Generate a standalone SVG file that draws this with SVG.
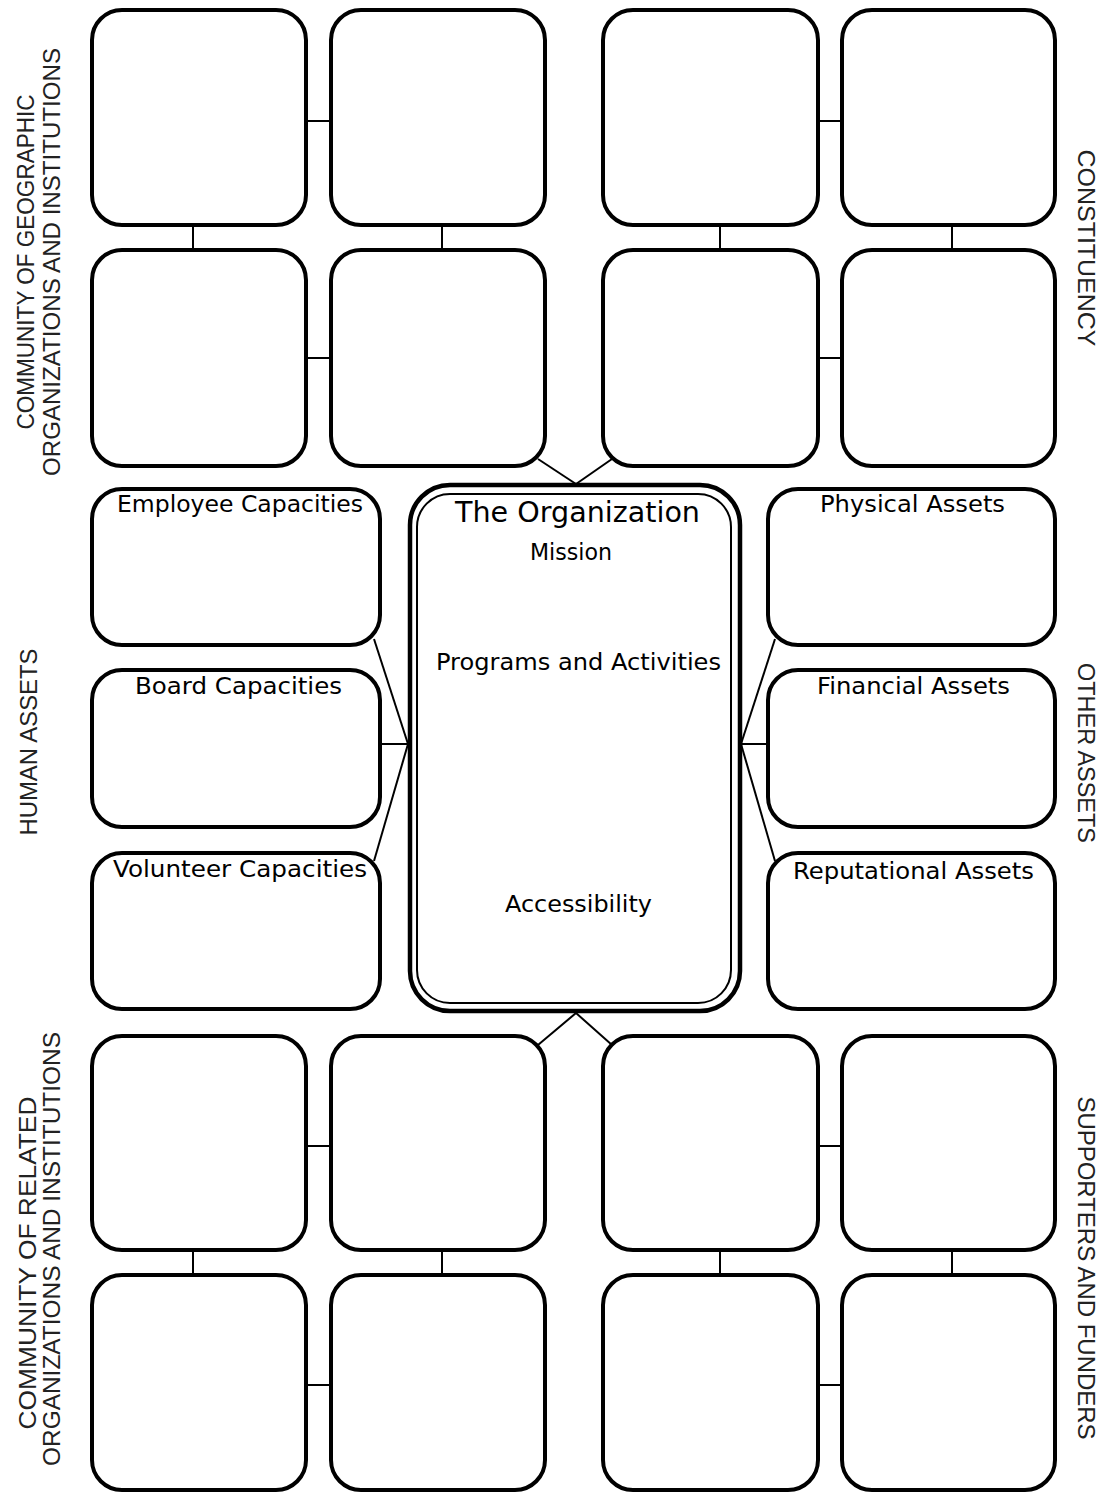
<svg xmlns="http://www.w3.org/2000/svg" width="1105" height="1496" viewBox="0 0 1105 1496">
<style>
.box{fill:#fff;stroke:#000;stroke-width:4}
.outer{fill:#fff;stroke:#000;stroke-width:4.5}
.inner{fill:none;stroke:#000;stroke-width:2}
.conn line{stroke:#000;stroke-width:2}
.lbl{font-family:"DejaVu Sans","Liberation Sans",sans-serif;font-size:23px;fill:#000}
.side{font-family:"Liberation Sans",Arial,sans-serif;font-size:24px;fill:#222;text-anchor:middle}
</style>
<rect width="1105" height="1496" fill="#fff"/>
<g id="connectors" class="conn">
<line x1="306" y1="121" x2="331" y2="121"/>
<line x1="306" y1="358" x2="331" y2="358"/>
<line x1="818" y1="121" x2="842" y2="121"/>
<line x1="818" y1="358" x2="842" y2="358"/>
<line x1="193" y1="225" x2="193" y2="250"/>
<line x1="442" y1="225" x2="442" y2="250"/>
<line x1="720" y1="225" x2="720" y2="250"/>
<line x1="952" y1="225" x2="952" y2="250"/>
<line x1="306" y1="1146" x2="331" y2="1146"/>
<line x1="306" y1="1385" x2="331" y2="1385"/>
<line x1="818" y1="1146" x2="842" y2="1146"/>
<line x1="818" y1="1385" x2="842" y2="1385"/>
<line x1="193" y1="1250" x2="193" y2="1275"/>
<line x1="442" y1="1250" x2="442" y2="1275"/>
<line x1="720" y1="1250" x2="720" y2="1275"/>
<line x1="952" y1="1250" x2="952" y2="1275"/>
<line x1="538" y1="459" x2="576" y2="484"/>
<line x1="612" y1="459" x2="576" y2="484"/>
<line x1="538" y1="1045" x2="576" y2="1013"/>
<line x1="612" y1="1045" x2="576" y2="1013"/>
<line x1="374" y1="639" x2="408" y2="744"/>
<line x1="380" y1="744" x2="408" y2="744"/>
<line x1="374" y1="861" x2="408" y2="744"/>
<line x1="775" y1="639" x2="741" y2="744"/>
<line x1="741" y1="744" x2="768" y2="744"/>
<line x1="775" y1="861" x2="741" y2="744"/>
</g>
<g id="grid-top">
<rect id="tl1" class="box" x="92" y="10" width="214" height="215" rx="30"/>
<rect id="tl2" class="box" x="331" y="10" width="214" height="215" rx="30"/>
<rect id="tr1" class="box" x="603" y="10" width="215" height="215" rx="30"/>
<rect id="tr2" class="box" x="842" y="10" width="213" height="215" rx="30"/>
<rect id="tl3" class="box" x="92" y="250" width="214" height="216" rx="30"/>
<rect id="tl4" class="box" x="331" y="250" width="214" height="216" rx="30"/>
<rect id="tr3" class="box" x="603" y="250" width="215" height="216" rx="30"/>
<rect id="tr4" class="box" x="842" y="250" width="213" height="216" rx="30"/>
</g>
<g id="grid-bottom">
<rect id="bl1" class="box" x="92" y="1036" width="214" height="214" rx="30"/>
<rect id="bl2" class="box" x="331" y="1036" width="214" height="214" rx="30"/>
<rect id="br1" class="box" x="603" y="1036" width="215" height="214" rx="30"/>
<rect id="br2" class="box" x="842" y="1036" width="213" height="214" rx="30"/>
<rect id="bl3" class="box" x="92" y="1275" width="214" height="215" rx="30"/>
<rect id="bl4" class="box" x="331" y="1275" width="214" height="215" rx="30"/>
<rect id="br3" class="box" x="603" y="1275" width="215" height="215" rx="30"/>
<rect id="br4" class="box" x="842" y="1275" width="213" height="215" rx="30"/>
</g>
<g id="employee">
<rect class="box" x="92" y="489" width="288" height="156" rx="30"/>
<text class="lbl" x="117" y="512" textLength="246" lengthAdjust="spacingAndGlyphs">Employee Capacities</text>
</g>
<g id="board">
<rect class="box" x="92" y="670" width="288" height="157" rx="30"/>
<text class="lbl" x="135" y="694" textLength="207" lengthAdjust="spacingAndGlyphs">Board Capacities</text>
</g>
<g id="volunteer">
<rect class="box" x="92" y="853" width="288" height="156" rx="30"/>
<text class="lbl" x="113" y="877" textLength="254" lengthAdjust="spacingAndGlyphs">Volunteer Capacities</text>
</g>
<g id="physical">
<rect class="box" x="768" y="489" width="287" height="156" rx="30"/>
<text class="lbl" x="820" y="512" textLength="185" lengthAdjust="spacingAndGlyphs">Physical Assets</text>
</g>
<g id="financial">
<rect class="box" x="768" y="670" width="287" height="157" rx="30"/>
<text class="lbl" x="817" y="694" textLength="193" lengthAdjust="spacingAndGlyphs">Financial Assets</text>
</g>
<g id="reputational">
<rect class="box" x="768" y="853" width="287" height="156" rx="30"/>
<text class="lbl" x="793" y="879" textLength="241" lengthAdjust="spacingAndGlyphs">Reputational Assets</text>
</g>
<g id="organization">
<rect class="outer" x="410" y="485" width="330" height="526" rx="40"/>
<rect class="inner" x="417" y="494" width="314" height="509" rx="33"/>
<text class="lbl" x="455" y="522" style="font-size:29px" textLength="245" lengthAdjust="spacingAndGlyphs">The Organization</text>
<text class="lbl" x="530" y="560" textLength="82" lengthAdjust="spacingAndGlyphs">Mission</text>
<text class="lbl" x="436" y="670" textLength="285" lengthAdjust="spacingAndGlyphs">Programs and Activities</text>
<text class="lbl" x="505" y="912" textLength="147" lengthAdjust="spacingAndGlyphs">Accessibility</text>
</g>
<g id="side-labels">
<text class="side" transform="translate(34,262) rotate(-90)" textLength="335" lengthAdjust="spacingAndGlyphs">COMMUNITY OF GEOGRAPHIC</text>
<text class="side" transform="translate(60,262) rotate(-90)" textLength="428" lengthAdjust="spacingAndGlyphs">ORGANIZATIONS AND INSTITUTIONS</text>
<text class="side" transform="translate(37,742) rotate(-90)" textLength="187" lengthAdjust="spacingAndGlyphs">HUMAN ASSETS</text>
<text class="side" transform="translate(36,1263) rotate(-90)" textLength="333" lengthAdjust="spacingAndGlyphs">COMMUNITY OF RELATED</text>
<text class="side" transform="translate(60,1249) rotate(-90)" textLength="434" lengthAdjust="spacingAndGlyphs">ORGANIZATIONS AND INSTITUTIONS</text>
<text class="side" transform="translate(1078,248) rotate(90)" textLength="197" lengthAdjust="spacingAndGlyphs">CONSTITUENCY</text>
<text class="side" transform="translate(1078,753) rotate(90)" textLength="180" lengthAdjust="spacingAndGlyphs">OTHER ASSETS</text>
<text class="side" transform="translate(1078,1268) rotate(90)" textLength="343" lengthAdjust="spacingAndGlyphs">SUPPORTERS AND FUNDERS</text>
</g>
</svg>
